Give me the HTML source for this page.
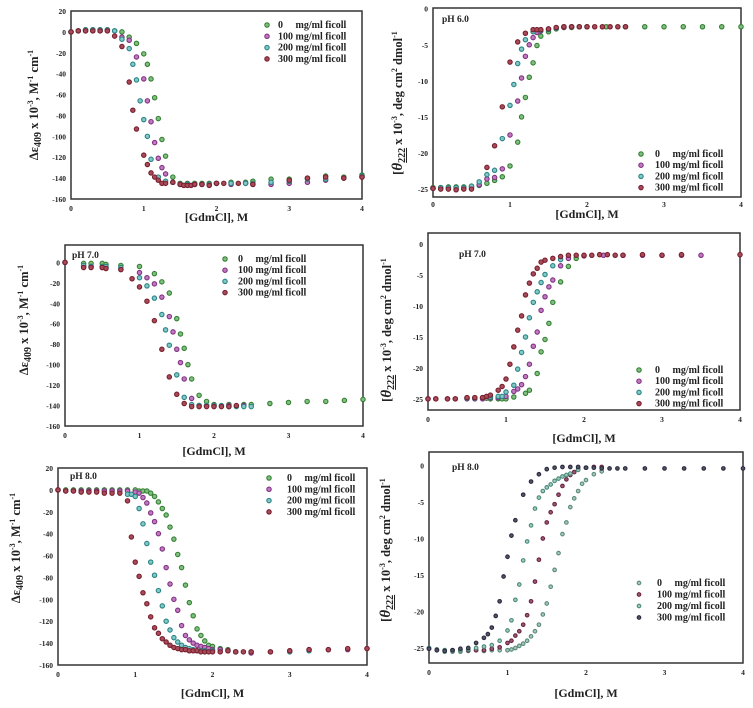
<!DOCTYPE html>
<html><head><meta charset="utf-8"><style>
html,body{margin:0;padding:0;background:#fff;}
svg{display:block;}
text{font-family:"Liberation Serif",serif;font-weight:bold;fill:#222;}
</style></head><body>
<svg id="fig" width="753" height="708" viewBox="0 0 753 708" xmlns="http://www.w3.org/2000/svg"></svg>
<script>
// ---- Panel A: pH 6.0 absorbance ----
const aX0=[0,0.1,0.2,0.3,0.4,0.5,0.6,0.7,0.8,0.9,1.0,1.05,1.1,1.15,1.2,1.25,1.3,1.4,1.5,1.6,1.7,1.8,1.9,2.0,2.2,2.4,2.5,2.75,3,3.25,3.5,3.75,4];
const aY0=[0,1,2,2,2,2,1,0,-5,-11,-21,-31,-45,-63,-83,-103,-119,-139,-145,-145,-145,-145,-145,-145,-144,-144,-143,-141,-141,-140,-138,-139,-137];
const aX1=[0,0.1,0.2,0.3,0.4,0.5,0.7,0.8,0.9,1.0,1.05,1.1,1.15,1.2,1.25,1.3,1.4,1.5,1.6,1.7,1.8,1.9,2.0,2.2,2.4,2.5,2.75,3,3.25,3.5,3.75,4];
const aY1=[0,1,1,1,1,1,-5,-8,-24,-45,-66,-86,-106,-121,-130,-136,-144,-146,-146,-146,-146,-146,-145,-146,-145,-146,-146,-145,-144,-142,-140,-139];
const aX2=[0,0.1,0.2,0.3,0.4,0.5,0.6,0.7,0.8,0.85,0.9,0.95,1.0,1.05,1.1,1.2,1.3,1.4,1.5,1.6,1.7,1.8,1.9,2.0,2.2,2.4,2.5,2.75,3,3.25,3.5,3.75,4];
const aY2=[0,1,2,2,2,2,1,-7,-16,-31,-46,-66,-84,-100,-122,-139,-143,-144,-146,-146,-146,-146,-146,-145,-145,-145,-145,-144,-143,-141,-141,-140,-138];
const aX3=[0,0.1,0.2,0.3,0.4,0.5,0.6,0.7,0.8,0.85,0.9,1.0,1.05,1.1,1.15,1.2,1.25,1.3,1.4,1.5,1.55,1.6,1.65,1.7,1.8,1.9,2.0,2.1,2.3,2.5,3,3.25,3.5,3.75,4];
const aY3=[0,1,1,1,1,1,-4,-14,-48,-75,-93,-118,-127,-135,-139,-142,-145,-145,-144,-146,-147,-147,-147,-146,-146,-147,-145,-145,-145,-146,-142,-140,-139,-140,-139];
// ---- Panel B: pH 6.0 CD ----
const bX0=[0,0.1,0.2,0.3,0.4,0.5,0.6,0.7,0.8,0.9,1.0,1.1,1.15,1.2,1.25,1.3,1.35,1.4,1.5,1.6,1.7,1.8,1.9,2.0,2.25,2.5,2.75,3,3.25,3.5,3.75,4];
const bY0=[-24.8,-24.8,-24.7,-24.7,-24.7,-24.6,-24.5,-24.2,-23.8,-23.3,-21.8,-18.5,-15,-12.3,-9.5,-7.5,-5.1,-3.8,-3.2,-2.8,-2.6,-2.6,-2.5,-2.5,-2.5,-2.5,-2.5,-2.5,-2.5,-2.5,-2.5,-2.5];
const bX1=[0,0.1,0.2,0.3,0.4,0.5,0.6,0.7,0.8,0.9,1.0,1.1,1.15,1.2,1.25,1.3,1.35,1.4,1.5,1.6,1.7,1.8];
const bY1=[-24.9,-24.9,-24.9,-25,-24.9,-24.8,-24.4,-23.6,-23.4,-22.2,-17.5,-12.8,-9.6,-6.6,-5,-4,-3.3,-3.1,-2.8,-2.7,-2.6,-2.5];
const bX2=[0,0.1,0.2,0.3,0.4,0.5,0.6,0.7,0.8,0.9,1.0,1.05,1.1,1.15,1.2,1.3,1.4,1.5,1.6,1.7,1.8];
const bY2=[-24.9,-24.8,-24.8,-24.8,-24.8,-24.6,-24,-23,-22.4,-18,-13.4,-10.5,-7.6,-5.6,-4.3,-3.2,-3,-2.9,-2.7,-2.5,-2.5];
const bX3=[0,0.1,0.2,0.3,0.4,0.5,0.7,0.8,0.9,1.0,1.1,1.2,1.3,1.35,1.4,1.5,1.6,1.7,1.8,1.9,2.0,2.1,2.2,2.3,2.4,2.5];
const bY3=[-24.9,-25,-25,-25.1,-25,-25,-22,-19,-13.6,-7.4,-4.6,-3.4,-2.9,-2.9,-2.9,-2.8,-2.6,-2.5,-2.5,-2.5,-2.5,-2.5,-2.5,-2.5,-2.5,-2.5];
// ---- Panel C: pH 7.0 absorbance ----
const cX0=[0,0.25,0.35,0.5,0.55,0.75,1.0,1.2,1.3,1.4,1.5,1.55,1.6,1.65,1.7,1.8,1.9,2.0,2.2,2.4,2.5,2.75,3,3.25,3.5,3.75,4];
const cY0=[0,-1,-1,-1,-2,-3,-4,-11,-19,-30,-55,-70,-84,-100,-114,-130,-136,-139,-139,-139,-139,-138,-137,-136,-136,-135,-134];
const cX1=[0,0.25,0.35,0.5,0.55,0.75,1.0,1.1,1.2,1.3,1.4,1.45,1.5,1.55,1.6,1.7,1.8,1.9,2.0,2.2,2.4];
const cY1=[0,-4,-4,-5,-5,-7,-10,-15,-21,-34,-53,-68,-85,-98,-114,-133,-140,-140,-140,-140,-140];
const cX2=[0,0.25,0.35,0.5,0.55,0.75,1.0,1.1,1.2,1.3,1.35,1.4,1.5,1.6,1.7,1.8,1.9,2.0,2.1,2.2,2.3,2.4,2.5];
const cY2=[0,-3,-4,-4,-4,-5,-15,-23,-35,-51,-66,-81,-110,-132,-139,-140,-140,-140,-140,-141,-141,-141,-141];
const cX3=[0,0.25,0.35,0.5,0.55,0.75,0.9,1.0,1.1,1.2,1.3,1.4,1.5,1.6,1.7,1.8,1.9,2.0,2.1,2.2,2.3];
const cY3=[0,-5,-5,-5,-6,-7,-16,-24,-38,-57,-85,-112,-129,-138,-141,-141,-141,-141,-141,-141,-140];
// ---- Panel D: pH 7.0 CD ----
const dX0=[0.5,0.6,0.7,0.75,0.8,0.9,0.95,1.0,1.1,1.25,1.3,1.4,1.45,1.5,1.55,1.6,1.7,1.8,1.9];
const dY0=[-24.9,-24.9,-24.9,-24.9,-25,-25,-25,-25,-24.7,-24.1,-23.6,-20.9,-17.4,-15.4,-12.8,-9.4,-6.1,-3.6,-2.3];
const dX1=[0,0.1,0.25,0.35,0.5,0.6,0.7,0.8,0.9,1.0,1.1,1.15,1.2,1.25,1.3,1.35,1.4,1.45,1.5,1.55,1.6,1.7,1.8,2.0,2.25,2.5,2.75,3,3.25,3.5];
const dY1=[-25,-25,-25,-25,-25,-25,-25,-24.8,-24.8,-24.6,-23.8,-23.4,-22.7,-21.4,-19.4,-16.5,-14.2,-10.7,-8.5,-6.9,-5.8,-3.5,-2.3,-1.9,-1.8,-1.8,-1.8,-1.8,-1.8,-1.8];
const dX2=[0.5,0.6,0.7,0.8,0.9,0.95,1.0,1.1,1.15,1.2,1.25,1.3,1.35,1.4,1.45,1.5,1.6,1.7];
const dY2=[-24.9,-24.9,-24.8,-24.7,-24.6,-24.6,-23.9,-22.8,-20.2,-17.5,-15,-11.9,-9.4,-7.7,-6.2,-4.9,-3.5,-2.5];
const dX3=[0,0.1,0.25,0.35,0.5,0.6,0.7,0.75,0.8,0.9,0.95,1.0,1.05,1.1,1.15,1.2,1.25,1.3,1.35,1.4,1.45,1.5,1.6,1.7,1.8,1.9,2.0,2.1,2.2,2.3,2.4,2.5,2.75,3,3.25,4];
const dY3=[-25,-25,-25,-25,-24.8,-24.8,-24.8,-24.6,-24.4,-23.6,-23,-21.8,-19.4,-16.6,-13.9,-11.6,-8.2,-6.3,-4.8,-3.9,-2.9,-2.6,-2.3,-2,-1.8,-1.8,-1.8,-1.8,-1.7,-1.7,-1.8,-1.8,-1.7,-1.8,-1.7,-1.7];
// ---- Panel E: pH 8.0 absorbance ----
const eX0=[0,0.1,0.2,0.3,0.4,0.5,0.6,0.7,0.8,0.9,1.0,1.05,1.1,1.15,1.2,1.25,1.3,1.35,1.4,1.45,1.5,1.55,1.6,1.65,1.7,1.75,1.8,1.85,1.9,1.95,2.0,2.1,2.2];
const eY0=[0,0,0,0,0,0,0,0,0,0,0,-1,-1,-1,-3,-6,-11,-17,-23,-34,-45,-59,-71,-87,-103,-115,-127,-133,-138,-142,-143,-145,-146];
const eX1=[0,0.1,0.2,0.3,0.4,0.5,0.6,0.7,0.8,0.9,1.0,1.05,1.1,1.15,1.2,1.25,1.3,1.35,1.4,1.45,1.5,1.55,1.6,1.65,1.7,1.75,1.8,1.85,1.9,1.95,2.0,2.1,2.2,2.3,2.5,2.75,3,3.25,3.5,3.75,4];
const eY1=[0,-1,-1,-1,-1,-1,-1,-1,-1,-1,-2,-3,-7,-12,-21,-29,-40,-54,-71,-86,-100,-110,-124,-133,-137,-140,-142,-143,-144,-145,-146,-146,-147,-148,-149,-148,-147,-146,-146,-146,-145];
const eX2=[0.9,0.95,1.0,1.05,1.1,1.15,1.2,1.25,1.3,1.35,1.4,1.45,1.5,1.55,1.6,1.65,1.7,1.75,1.8,1.85,1.9,2.0,2.3,2.5,3,3.25];
const eY2=[-4,-4,-6,-17,-31,-49,-66,-78,-92,-106,-120,-128,-135,-139,-142,-144,-145,-146,-147,-147,-147,-147,-148,-148,-148,-147];
const eX3=[0,0.1,0.2,0.3,0.4,0.5,0.6,0.7,0.8,0.9,0.95,1.0,1.05,1.1,1.15,1.2,1.25,1.3,1.35,1.4,1.45,1.5,1.55,1.6,1.65,1.7,1.75,1.8,1.85,1.9,1.95,2.0,2.1,2.2,2.3,2.4,2.5,2.75,3,3.25,3.5,3.75,4];
const eY3=[0,-1,-1,-2,-2,-2,-3,-3,-3,-10,-43,-66,-79,-94,-104,-116,-126,-131,-136,-139,-142,-144,-145,-146,-146,-147,-147,-147,-148,-148,-148,-148,-148,-147,-148,-148,-148,-148,-147,-146,-146,-145,-145];
// ---- Panel F: pH 8.0 CD ----
const fX0=[0,0.1,0.2,0.3,0.4,0.5,0.6,0.7,0.8,0.9,1.0,1.05,1.1,1.15,1.2,1.25,1.3,1.35,1.4,1.45,1.5,1.55,1.6,1.65,1.7,1.75,1.8,1.85,1.9,1.95,2.0,2.1,2.2];
const fY0=[-25,-25.3,-25.5,-25.5,-25.5,-25.4,-25.3,-25.4,-25.3,-25.3,-25.3,-25.2,-25,-24.7,-24.4,-24,-23.4,-22.7,-21.8,-20.4,-18.9,-16.6,-14.3,-12,-9.4,-7.8,-5.7,-4.5,-3.5,-2.5,-2,-1.2,-0.8];
const fX1=[0,0.1,0.2,0.3,0.4,0.5,0.6,0.7,0.8,0.9,1.0,1.05,1.1,1.15,1.2,1.25,1.3,1.35,1.4,1.45,1.5,1.55,1.6,1.65,1.7,1.75,1.8,1.85,1.9,2.0,2.1,2.2];
const fY1=[-25.1,-25.2,-25.3,-25.3,-25.3,-25.3,-25.3,-25.3,-25.1,-24.9,-24.3,-24,-23.3,-22.7,-21.8,-20.5,-18.6,-15.9,-12.9,-10,-7.8,-6.4,-5.3,-4,-2.8,-1.9,-1.3,-0.9,-0.5,-0.3,-0.2,-0.2];
const fX2=[0,0.1,0.2,0.3,0.4,0.5,0.6,0.7,0.8,0.9,1.0,1.05,1.1,1.15,1.2,1.25,1.3,1.35,1.4,1.45,1.5,1.55,1.6,1.65,1.7,1.75,1.8,1.9,2.0];
const fY2=[-25,-25.2,-25.3,-25.3,-25.3,-25.2,-25,-24.8,-24.6,-24,-22.6,-21.2,-18.4,-16.3,-13,-10.4,-8.2,-5.9,-4.4,-3.5,-3,-2.6,-2.1,-1.8,-1.5,-1.3,-1.1,-0.6,-0.3];
const fX3=[0,0.1,0.2,0.3,0.4,0.5,0.6,0.7,0.75,0.8,0.85,0.9,0.95,1.0,1.05,1.1,1.2,1.3,1.4,1.5,1.6,1.7,1.8,1.9,2.0,2.1,2.2,2.3,2.4,2.5,2.75,3,3.25,3.5,3.75,4];
const fY3=[-25.1,-25.3,-25.4,-25.3,-25.1,-25,-24.3,-23.6,-23.1,-22.2,-20.6,-18.6,-15.2,-12.5,-9.6,-7.5,-4,-2.2,-1.2,-0.5,-0.3,-0.2,-0.2,-0.2,-0.3,-0.3,-0.4,-0.4,-0.4,-0.4,-0.4,-0.4,-0.4,-0.4,-0.4,-0.4];

const xTicks=[0,1,2,3,4];
const absTicksA=[20,0,-20,-40,-60,-80,-100,-120,-140,-160];
const absTicksC=[0,-20,-40,-60,-80,-100,-120,-140,-160];
const cdTicks=[0,-5,-10,-15,-20,-25];
const legendLabels=["0     mg/ml ficoll","100 mg/ml ficoll","200 mg/ml ficoll","300 mg/ml ficoll"];

const NS="http://www.w3.org/2000/svg";
const svg=document.getElementById('fig');
function mk(tag,attrs,parent){const e=document.createElementNS(NS,tag);for(const k in attrs)e.setAttribute(k,attrs[k]);(parent||svg).appendChild(e);return e;}

const colAbs=[["#357f35","#7fc07f"],["#823282","#c07ac0"],["#2a8484","#82c8c8"],["#78202e","#a84a5a"]];
const colF=[["#5a8a7a","#a8c8bc"],["#6a2440","#9a5a78"],["#4a8a7a","#a0ccbc"],["#2a2a3e","#55556a"]];

function panel(p){
  const g=mk('g',{});
  
  
  const sx=v=>p.l+(v-0)/(4-0)*(p.r-p.l);
  const sy=v=>p.t+(p.ymax-v)/(p.ymax-p.ymin)*(p.b-p.t);
  const fr=mk('rect',{x:p.l,y:p.t,width:p.r-p.l,height:p.b-p.t,fill:'none',stroke:'#333','stroke-width':1.5},g);
  
  
  xTicks.forEach(v=>{
    const t=mk('text',{x:sx(v),y:p.b+(p.xto||12),'font-size':7.5,'text-anchor':'middle'},g);t.textContent=v;
    
    
  });
  p.yt.forEach(v=>{
    const t=mk('text',{x:p.l-5,y:sy(v)+3,'font-size':7.5,'text-anchor':'end'},g);t.textContent=v;
    
    
  });
  const xt=mk('text',{x:(p.l+p.r)/2,y:p.xly,'font-size':12,'text-anchor':'middle'},g);xt.textContent='[GdmCl], M';
  
  
  const yt=mk('text',{x:0,y:0,'font-size':12.5,'text-anchor':'middle',transform:`translate(${p.ylx},${p.yly}) rotate(-90)`},g);
  
  
  if(p.cd){
    yt.innerHTML='[<tspan font-style="italic" font-size="15">θ</tspan><tspan font-size="10" dy="3" text-decoration="underline">222</tspan><tspan dy="-3"> x 10</tspan><tspan font-size="8" dy="-5">-3</tspan><tspan dy="5">, deg cm</tspan><tspan font-size="8" dy="-5">2</tspan><tspan dy="5"> dmol</tspan><tspan font-size="8" dy="-5">-1</tspan>';
  } else {
    yt.innerHTML='Δε<tspan font-size="10" dy="3">409</tspan><tspan dy="-3"> x 10</tspan><tspan font-size="8" dy="-5">-3</tspan><tspan dy="5">, M</tspan><tspan font-size="8" dy="-5">-1</tspan><tspan dy="5"> cm</tspan><tspan font-size="8" dy="-5">-1</tspan>';
  }
  if(p.ph){
    const t=mk('text',{x:p.phx,y:p.phy,'font-size':9.5},g);t.textContent=p.ph;
    
    
  }
  const cols=p.cols||colAbs;
  p.series.forEach((s,i)=>{
    const sg=mk('g',{},g);
    
    
    s[0].forEach((xv,j)=>{
      const c=mk('circle',{cx:sx(xv),cy:sy(s[1][j]),r:p.mr||2.2,fill:cols[i][1],stroke:cols[i][0],'stroke-width':1.1},sg);
      
      
    });
  });
  const lg=mk('g',{},g);
  
  
  legendLabels.forEach((lab,i)=>{
    const y=p.lgy+i*p.lgdy;
    const c=mk('circle',{cx:p.lgmx,cy:y-3,r:p.mr||2.2,fill:cols[i][1],stroke:cols[i][0],'stroke-width':1.1},lg);
    
    
    const t=mk('text',{x:p.lgtx,y:y,'font-size':10},lg);
    t.setAttribute('style','white-space:pre');
    t.textContent=lab;
    
    
  });
}

panel({name:'panel-ph6-absorbance',l:71,r:362,t:11,b:199,ymin:-160,ymax:20,yt:absTicksA,xly:221,ylx:38,yly:105,
  series:[[aX0,aY0],[aX1,aY1],[aX2,aY2],[aX3,aY3]],lgmx:267,lgtx:278,lgy:28,lgdy:11.3});
panel({name:'panel-ph6-cd',cd:true,l:433,r:741,t:8,b:197,ymin:-26.1,ymax:0.1,yt:cdTicks,xto:10,xly:218,ylx:402,yly:103,ph:'pH 6.0',phx:442,phy:22,
  series:[[bX0,bY0],[bX1,bY1],[bX2,bY2],[bX3,bY3]],lgmx:641,lgtx:655,lgy:157,lgdy:11.2});
panel({name:'panel-ph7-absorbance',l:65,r:363,t:245,b:426,ymin:-160,ymax:17,yt:absTicksC,xly:455,ylx:28,yly:320,ph:'pH 7.0',phx:72,phy:258,
  series:[[cX0,cY0],[cX1,cY1],[cX2,cY2],[cX3,cY3]],lgmx:225,lgtx:238,lgy:262,lgdy:11.2});
panel({name:'panel-ph7-cd',cd:true,l:428,r:740,t:233,b:410,ymin:-26.8,ymax:1.8,yt:cdTicks,xly:442,ylx:391,yly:330,ph:'pH 7.0',phx:459,phy:257,
  series:[[dX0,dY0],[dX1,dY1],[dX2,dY2],[dX3,dY3]],lgmx:639,lgtx:655,lgy:373,lgdy:11.2});
panel({name:'panel-ph8-absorbance',l:58,r:367,t:468,b:665,ymin:-160,ymax:20,yt:absTicksA,xly:697,ylx:20,yly:548,ph:'pH 8.0',phx:70,phy:479,
  series:[[eX0,eY0],[eX1,eY1],[eX2,eY2],[eX3,eY3]],lgmx:269,lgtx:287,lgy:481,lgdy:11.3});
panel({name:'panel-ph8-cd',cd:true,l:429,r:743,t:452,b:663,ymin:-27.05,ymax:1.85,yt:cdTicks,xly:697,ylx:390,yly:550,ph:'pH 8.0',phx:452,phy:470,cols:colF,mr:1.8,
  series:[[fX0,fY0],[fX1,fY1],[fX2,fY2],[fX3,fY3]],lgmx:639,lgtx:657,lgy:586,lgdy:11.5});
</script>
</body></html>
